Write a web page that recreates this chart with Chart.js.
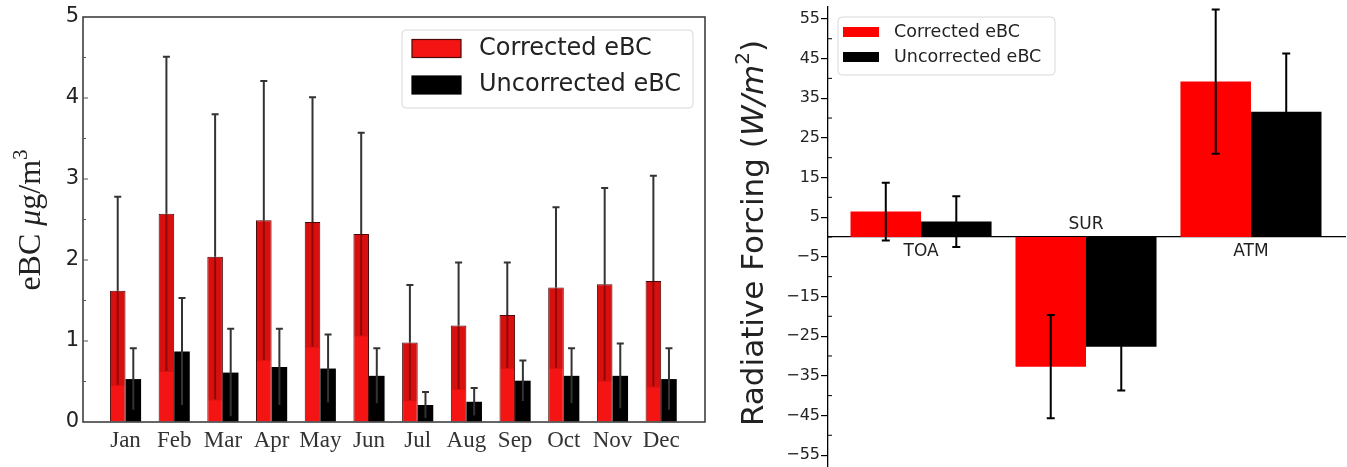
<!DOCTYPE html>
<html>
<head>
<meta charset="utf-8">
<script src="https://cdn.jsdelivr.net/npm/chart.js@4.4.1/dist/chart.umd.min.js"></script>
<style>
  html, body { margin: 0; padding: 0; background: #fff; }
  #wrap { position: relative; width: 1347px; height: 467px; overflow: hidden; }
  #leftBox { position: absolute; left: 0; top: 0; }
  #rightBox { position: absolute; left: 715px; top: 0; }
</style>
</head>
<body>
<div id="wrap">
  <div id="leftBox"><canvas id="ebcCanvas" width="715" height="467"></canvas></div>
  <div id="rightBox"><canvas id="rfCanvas" width="632" height="467"></canvas></div>
</div>
<script>
// Monthly eBC (left panel)
const months = ["Jan", "Feb", "Mar", "Apr", "May", "Jun", "Jul", "Aug", "Sep", "Oct", "Nov", "Dec"];
const correctedEBC = [1.62, 2.57, 2.04, 2.49, 2.47, 2.32, 0.98, 1.19, 1.32, 1.66, 1.70, 1.74];
const correctedErr = [1.16, 1.94, 1.76, 1.72, 1.54, 1.25, 0.71, 0.78, 0.65, 0.99, 1.19, 1.30];
const uncorrectedEBC = [0.53, 0.87, 0.61, 0.68, 0.66, 0.57, 0.21, 0.25, 0.51, 0.57, 0.57, 0.53];
const uncorrectedErr = [0.38, 0.66, 0.54, 0.47, 0.42, 0.34, 0.16, 0.17, 0.25, 0.34, 0.40, 0.38];
const ebcTicks = [0, 1, 2, 3, 4, 5];

// Radiative forcing (right panel)
const levels = ["TOA", "SUR", "ATM"];
const correctedRF = [6.4, -32.7, 39.2];
const correctedRFErr = [7.3, 13.0, 18.2];
const uncorrectedRF = [3.9, -27.7, 31.6];
const uncorrectedRFErr = [6.4, 11.0, 14.7];
const rfTicks = [-55, -45, -35, -25, -15, -5, 5, 15, 25, 35, 45, 55];

Chart.defaults.font.family = "'DejaVu Sans', sans-serif";
Chart.defaults.color = "#222";

const SERIF = "'Liberation Serif', 'DejaVu Serif', serif";
const SANS = "'DejaVu Sans', sans-serif";

// rotated axis title made of several styled pieces
function drawVerticalTitle(ctx, baseX, centerY, parts) {
  ctx.save();
  ctx.translate(baseX, centerY);
  ctx.rotate(-Math.PI / 2);
  ctx.textAlign = "left";
  ctx.textBaseline = "alphabetic";
  let total = 0;
  parts.forEach(p => { ctx.font = p.font; p.w = ctx.measureText(p.text).width; total += p.w; });
  let x = -total / 2;
  parts.forEach(p => {
    ctx.font = p.font;
    ctx.fillStyle = "#222";
    ctx.fillText(p.text, x, p.dy || 0);
    x += p.w;
  });
  ctx.restore();
}

function roundRect(ctx, x, y, w, h, r) {
  ctx.beginPath();
  ctx.moveTo(x + r, y);
  ctx.lineTo(x + w - r, y);
  ctx.quadraticCurveTo(x + w, y, x + w, y + r);
  ctx.lineTo(x + w, y + h - r);
  ctx.quadraticCurveTo(x + w, y + h, x + w - r, y + h);
  ctx.lineTo(x + r, y + h);
  ctx.quadraticCurveTo(x, y + h, x, y + h - r);
  ctx.lineTo(x, y + r);
  ctx.quadraticCurveTo(x, y, x + r, y);
  ctx.closePath();
}

const boxLegend = {
  id: "boxLegend",
  afterDraw(chart, args, o) {
    const ctx = chart.ctx;
    ctx.save();
    roundRect(ctx, o.box[0], o.box[1], o.box[2], o.box[3], 4);
    ctx.fillStyle = "rgba(255,255,255,0.85)";
    ctx.fill();
    ctx.strokeStyle = "#d8d8d8";
    ctx.lineWidth = 1;
    ctx.stroke();
    chart.data.datasets.forEach((ds, i) => {
      const cy = o.rows[i];
      ctx.fillStyle = ds.backgroundColor;
      ctx.fillRect(o.patchX, cy - o.patchH / 2, o.patchW, o.patchH);
      if (o.edge) {
        ctx.strokeStyle = ds.borderColor;
        ctx.lineWidth = 1.2;
        ctx.strokeRect(o.patchX, cy - o.patchH / 2, o.patchW, o.patchH);
      }
      ctx.fillStyle = "#222";
      ctx.font = o.font;
      ctx.textBaseline = "middle";
      ctx.textAlign = "left";
      ctx.fillText(ds.label, o.textX, cy);
    });
    ctx.restore();
  }
};

const errorBars = {
  id: "errorBars",
  afterDatasetsDraw(chart, args, o) {
    const ctx = chart.ctx;
    const ys = chart.scales.y;
    ctx.save();
    chart.data.datasets.forEach((ds, di) => {
      const meta = chart.getDatasetMeta(di);
      meta.data.forEach((bar, i) => {
        const v = ds.data[i].y;
        const e = ds.errors[i];
        const pV = ys.getPixelForValue(v);
        const pHi = ys.getPixelForValue(v + e);
        const pLo = ys.getPixelForValue(v - e);
        const x = bar.x;
        ctx.lineWidth = o.width;
        if (o.shadeInside && ds.shade) {
          // darker band inside the bar down to the lower error value
          const w = bar.width;
          ctx.fillStyle = ds.shade;
          ctx.fillRect(x - w / 2 + 1, pV + 1, w - 2, pLo - pV);
          ctx.strokeStyle = ds.innerLine;
          ctx.beginPath();
          ctx.moveTo(x, pV);
          ctx.lineTo(x, pLo);
          ctx.stroke();
          ctx.strokeStyle = o.color;
          ctx.beginPath();
          ctx.moveTo(x, pV);
          ctx.lineTo(x, pHi);
          ctx.moveTo(x - o.cap, pHi);
          ctx.lineTo(x + o.cap, pHi);
          ctx.stroke();
        } else {
          ctx.strokeStyle = o.color;
          ctx.beginPath();
          ctx.moveTo(x, pLo);
          ctx.lineTo(x, pHi);
          ctx.moveTo(x - o.cap, pHi);
          ctx.lineTo(x + o.cap, pHi);
          if (o.lowerCap) {
            ctx.moveTo(x - o.cap, pLo);
            ctx.lineTo(x + o.cap, pLo);
          }
          ctx.stroke();
        }
      });
    });
    ctx.restore();
  }
};

// frame + small inward ticks for the left panel
const ebcFrame = {
  id: "ebcFrame",
  afterDraw(chart) {
    const { ctx, chartArea: a } = chart;
    const ys = chart.scales.y;
    ctx.save();
    ctx.strokeStyle = "#333";
    ctx.lineWidth = 1.5;
    ctx.strokeRect(a.left, a.top, a.right - a.left, a.bottom - a.top);
    ctx.lineWidth = 1;
    ctx.strokeStyle = "#555";
    for (let t = 0.5; t < 5; t += 0.5) {
      const y = ys.getPixelForValue(t);
      const len = Number.isInteger(t) ? 5 : 3;
      ctx.beginPath();
      ctx.moveTo(a.left, y);
      ctx.lineTo(a.left + len, y);
      ctx.stroke();
    }
    drawVerticalTitle(ctx, 40, 220, [
      { text: "eBC ", font: "32px " + SERIF },
      { text: "\u03bc", font: "italic 32px " + SERIF },
      { text: "g/m", font: "32px " + SERIF },
      { text: "3", font: "21px " + SERIF, dy: -13 }
    ]);
    ctx.restore();
  }
};

const rfExtras = {
  id: "rfExtras",
  afterDraw(chart) {
    const { ctx, chartArea: a } = chart;
    const ys = chart.scales.y;
    const xs = chart.scales.x;
    ctx.save();
    // minor ticks, inward
    ctx.strokeStyle = "#000";
    ctx.lineWidth = 1;
    for (let t = -50; t <= 50; t += 10) {
      const y = ys.getPixelForValue(t);
      ctx.beginPath();
      ctx.moveTo(a.left, y);
      ctx.lineTo(a.left + 4, y);
      ctx.stroke();
    }
    // level labels next to the zero line
    const y0 = ys.getPixelForValue(0);
    ctx.font = "17px " + SANS;
    ctx.fillStyle = "#222";
    ctx.textAlign = "center";
    ctx.textBaseline = "middle";
    levels.forEach((lab, i) => {
      const x = xs.getPixelForValue(i);
      const y = correctedRF[i] < 0 ? y0 - 12 : y0 + 15;
      ctx.fillText(lab, x, y);
    });
    drawVerticalTitle(ctx, 48, 233, [
      { text: "Radiative Forcing (", font: "31px " + SANS },
      { text: "W/m", font: "italic 31px " + SANS },
      { text: "2", font: "20px " + SANS, dy: -14 },
      { text: ")", font: "31px " + SANS }
    ]);
    ctx.restore();
  }
};

// Left chart: monthly eBC
const ebcChart = new Chart(document.getElementById("ebcCanvas"), {
  type: "bar",
  data: {
    datasets: [
      {
        label: "Corrected eBC",
        data: months.map((m, i) => ({ x: i, y: correctedEBC[i] })),
        errors: correctedErr,
        backgroundColor: "#f51414",
        borderColor: "#4a0808",
        borderWidth: 1,
        shade: "rgba(110,0,0,0.22)",
        innerLine: "rgba(90,0,0,0.55)"
      },
      {
        label: "Uncorrected eBC",
        data: months.map((m, i) => ({ x: i, y: uncorrectedEBC[i] })),
        errors: uncorrectedErr,
        backgroundColor: "#000000",
        borderColor: "#000000",
        borderWidth: 0
      }
    ]
  },
  options: {
    responsive: false,
    animation: false,
    devicePixelRatio: 1,
    layout: { padding: { left: 0, top: 17, right: 10, bottom: 0 } },
    datasets: { bar: { categoryPercentage: 0.64, barPercentage: 1.0 } },
    scales: {
      x: {
        type: "linear",
        min: -0.873,
        max: 11.9,
        offset: false,
        afterBuildTicks: s => { s.ticks = months.map((m, i) => ({ value: i })); },
        afterFit: s => { s.height = 45; s.paddingLeft = 0; s.paddingRight = 0; },
        ticks: {
          callback: v => months[v],
          font: { family: SERIF, size: 23 },
          color: "#333",
          padding: 5,
          maxRotation: 0,
          autoSkip: false
        },
        grid: { display: false, drawTicks: false },
        border: { display: false }
      },
      y: {
        min: 0,
        max: 5,
        afterBuildTicks: s => { s.ticks = ebcTicks.map(v => ({ value: v })); },
        afterFit: s => { s.width = 83; s.paddingTop = 0; s.paddingBottom = 0; },
        ticks: { font: { size: 21 }, color: "#222", padding: 4 },
        grid: { drawOnChartArea: false, drawTicks: false },
        border: { display: false }
      }
    },
    plugins: {
      legend: { display: false },
      tooltip: { enabled: false },
      errorBars: { color: "#333", width: 2, cap: 3.5, shadeInside: true, lowerCap: false },
      boxLegend: {
        box: [402, 30, 291, 78],
        rows: [48.5, 85],
        patchX: 412, patchW: 49, patchH: 18,
        textX: 479,
        font: "24px " + SANS,
        edge: true
      }
    }
  },
  plugins: [errorBars, ebcFrame, boxLegend]
});

// Right chart: radiative forcing
const rfChart = new Chart(document.getElementById("rfCanvas"), {
  type: "bar",
  data: {
    datasets: [
      {
        label: "Corrected eBC",
        data: levels.map((l, i) => ({ x: i, y: correctedRF[i] })),
        errors: correctedRFErr,
        backgroundColor: "#ff0000",
        borderWidth: 0
      },
      {
        label: "Uncorrected eBC",
        data: levels.map((l, i) => ({ x: i, y: uncorrectedRF[i] })),
        errors: uncorrectedRFErr,
        backgroundColor: "#000000",
        borderWidth: 0
      }
    ]
  },
  options: {
    responsive: false,
    animation: false,
    devicePixelRatio: 1,
    layout: { padding: { left: 0, top: 7, right: 2, bottom: 0 } },
    datasets: { bar: { categoryPercentage: 0.855, barPercentage: 1.0 } },
    scales: {
      x: {
        type: "linear",
        min: -0.564,
        max: 2.57,
        offset: false,
        position: { y: 0 },
        afterBuildTicks: s => { s.ticks = levels.map((l, i) => ({ value: i })); },
        afterFit: s => { s.paddingLeft = 0; s.paddingRight = 0; },
        ticks: { display: false },
        grid: { display: false, drawTicks: false },
        border: { display: true, color: "#000", width: 1.3 }
      },
      y: {
        min: -58,
        max: 58,
        afterBuildTicks: s => { s.ticks = rfTicks.map(v => ({ value: v })); },
        afterFit: s => { s.width = 113; s.paddingTop = 0; s.paddingBottom = 0; },
        ticks: {
          callback: v => (v < 0 ? "\u2212" + Math.abs(v) : String(v)),
          font: { size: 16 },
          color: "#222",
          padding: 1
        },
        grid: { drawOnChartArea: false, drawTicks: true, tickLength: 7, color: "#000", lineWidth: 1.2 },
        border: { display: true, color: "#000", width: 1.3 }
      }
    },
    plugins: {
      legend: { display: false },
      tooltip: { enabled: false },
      errorBars: { color: "#000", width: 2, cap: 4, shadeInside: false, lowerCap: true },
      boxLegend: {
        box: [123, 17, 217, 58],
        rows: [32, 57],
        patchX: 128, patchW: 36, patchH: 10,
        textX: 179,
        font: "17.5px " + SANS,
        edge: false
      }
    }
  },
  plugins: [errorBars, rfExtras, boxLegend]
});
</script>
</body>
</html>
